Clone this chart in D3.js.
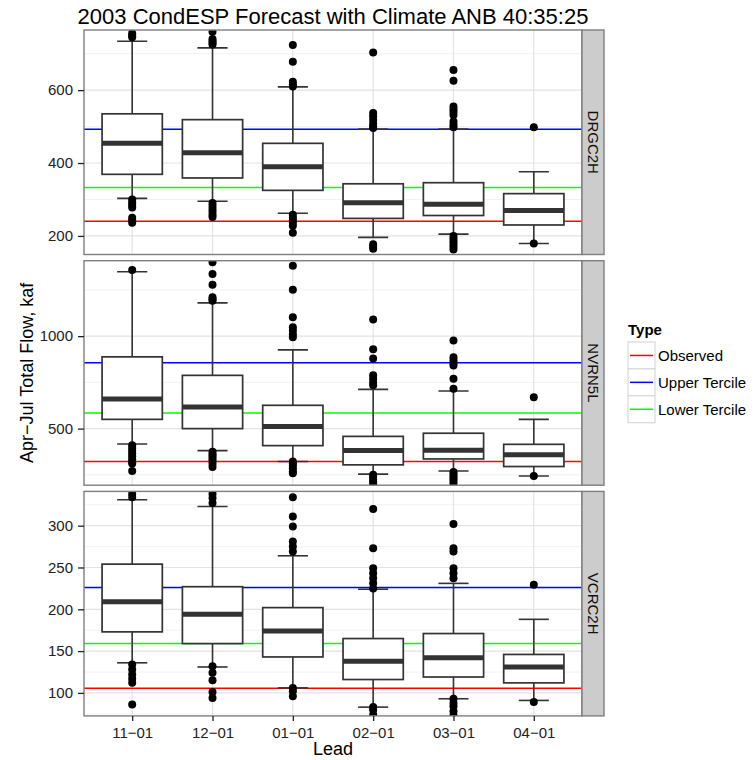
<!DOCTYPE html>
<html>
<head>
<meta charset="utf-8">
<script src="https://cdn.jsdelivr.net/npm/d3@7"></script>
<style>
  body { margin: 0; background: #fff; }
  text { font-family: "Liberation Sans", Arial, sans-serif; }
</style>
</head>
<body>
<div id="chart"></div>
<script>
const leads = ["11-01", "12-01", "01-01", "02-01", "03-01", "04-01"];
const stations = ["DRGC2H", "NVRN5L", "VCRC2H"];

// [lower whisker, Q1, median, Q3, upper whisker] per lead
const drgc2hStats = [[303, 369, 454, 535, 734], [295, 359, 428, 519, 716], [262, 325, 390, 454, 609],
  [196, 248, 291, 343, 493], [205, 256, 287, 346, 493], [179, 230, 270, 316, 376]];
const nvrn5lStats = [[417, 550, 660, 888, 1348], [381, 500, 617, 788, 1180], [322, 408, 511, 626, 926],
  [254, 304, 381, 458, 712], [271, 336, 383, 475, 703], [244, 295, 358, 415, 550]];
const vcrc2hStats = [[136, 173, 209, 254, 331], [131, 159, 194, 227, 323], [106, 143, 174, 202, 264],
  [83, 116, 138, 165, 224], [93, 119, 142, 171, 231], [91, 112, 131, 146, 188]];

const drgc2hOutliers = [
  [745, 750, 756, 300, 292, 285, 278, 250, 243, 236],
  [760, 740, 735, 730, 725, 290, 282, 274, 266, 258, 252],
  [724, 678, 623, 615, 610, 258, 250, 243, 236, 228, 209],
  [703, 537, 528, 518, 508, 500, 496, 177, 170, 165],
  [655, 626, 555, 547, 540, 532, 514, 505, 498, 200, 192, 185, 178, 170, 163],
  [498, 179]
];
const nvrn5lOutliers = [
  [1358, 410, 395, 380, 365, 350, 335, 320, 311, 271],
  [1399, 1336, 1278, 1210, 1200, 1192, 375, 362, 350, 337, 325, 310, 293],
  [1381, 1251, 1102, 1048, 1030, 1010, 994, 322, 312, 300, 285, 270, 259],
  [1090, 929, 879, 788, 770, 750, 734, 250, 238, 225, 212, 200],
  [976, 886, 870, 855, 841, 770, 716, 265, 255, 242, 230, 218, 205],
  [669, 244]
];
const vcrc2hOutliers = [
  [338, 334, 134, 128, 122, 117, 112, 86],
  [338, 333, 327, 132, 124, 115, 101, 94],
  [334, 311, 299, 281, 275, 269, 106, 102, 96],
  [320, 273, 249, 243, 237, 231, 225, 83, 80, 74],
  [302, 273, 269, 249, 243, 237, 93, 88, 84, 78, 73],
  [229.5, 89]
];

const observed = [240, 322, 105.5];
const upperTercile = [493, 856, 226];
const lowerTercile = [333, 584, 159];

const yDomains = [[149, 765], [194, 1408], [72.5, 341]];
const yTicks = [[200, 400, 600], [500, 1000], [100, 150, 200, 250, 300]];
const yMinor = [[300, 500, 700], [250, 750, 1250], [75, 125, 175, 225, 275, 325]];

const typeNames = ["Observed", "Upper Tercile", "Lower Tercile"];
const typeColors = ["#ff0000", "#0000ff", "#00ff00"];

const allStats = [drgc2hStats, nvrn5lStats, vcrc2hStats];
const allOutliers = [drgc2hOutliers, nvrn5lOutliers, vcrc2hOutliers];
const allLines = [observed, upperTercile, lowerTercile];

const W = 756, H = 760;
const panel = { left: 84, right: 582, top: 30, height: 224.5, gap: 6.2 };
const stripW = 22;

const svg = d3.select("#chart").append("svg").attr("width", W).attr("height", H);

const x = d3.scalePoint().domain(leads).range([panel.left, panel.right]).padding(0.6);
const step = x.step();
const boxW = step * 0.75;
const capW = boxW / 2;
const fmt = s => s.replace("-", "\u2212");

svg.append("text")
  .attr("x", (panel.left + panel.right) / 2).attr("y", 24)
  .attr("text-anchor", "middle").attr("font-size", 22).attr("fill", "#000")
  .text("2003 CondESP Forecast with Climate ANB 40:35:25");

stations.forEach((st, i) => {
  const top = panel.top + i * (panel.height + panel.gap);
  const bottom = top + panel.height;
  const y = d3.scaleLinear().domain(yDomains[i]).range([bottom, top]);
  const g = svg.append("g");

  g.append("clipPath").attr("id", "clip" + i)
    .append("rect").attr("x", panel.left).attr("y", top)
    .attr("width", panel.right - panel.left).attr("height", panel.height);

  g.append("rect").attr("x", panel.left).attr("y", top)
    .attr("width", panel.right - panel.left).attr("height", panel.height).attr("fill", "#fff");

  const plot = g.append("g").attr("clip-path", `url(#clip${i})`);

  plot.selectAll(".minor").data(yMinor[i]).join("line")
    .attr("x1", panel.left).attr("x2", panel.right)
    .attr("y1", d => y(d)).attr("y2", d => y(d))
    .attr("stroke", "#f2f2f2").attr("stroke-width", 1);
  plot.selectAll(".major").data(yTicks[i]).join("line")
    .attr("x1", panel.left).attr("x2", panel.right)
    .attr("y1", d => y(d)).attr("y2", d => y(d))
    .attr("stroke", "#e3e3e3").attr("stroke-width", 1.2);
  plot.selectAll(".vgrid").data(leads).join("line")
    .attr("x1", d => x(d)).attr("x2", d => x(d))
    .attr("y1", top).attr("y2", bottom)
    .attr("stroke", "#e3e3e3").attr("stroke-width", 1.2);

  // tercile / observed lines
  allLines.forEach((arr, k) => {
    plot.append("line")
      .attr("x1", panel.left).attr("x2", panel.right)
      .attr("y1", y(arr[i])).attr("y2", y(arr[i]))
      .attr("stroke", typeColors[k]).attr("stroke-width", 1.5);
  });

  const stats = allStats[i];
  const boxes = plot.selectAll(".box").data(leads).join("g");
  boxes.append("line")
    .attr("x1", d => x(d)).attr("x2", d => x(d))
    .attr("y1", (d, j) => y(stats[j][4])).attr("y2", (d, j) => y(stats[j][0]))
    .attr("stroke", "#333").attr("stroke-width", 1.6);
  [0, 4].forEach(q => {
    boxes.append("line")
      .attr("x1", d => x(d) - capW / 2).attr("x2", d => x(d) + capW / 2)
      .attr("y1", (d, j) => y(stats[j][q])).attr("y2", (d, j) => y(stats[j][q]))
      .attr("stroke", "#333").attr("stroke-width", 1.6);
  });
  boxes.append("rect")
    .attr("x", d => x(d) - boxW / 2).attr("width", boxW)
    .attr("y", (d, j) => y(stats[j][3]))
    .attr("height", (d, j) => y(stats[j][1]) - y(stats[j][3]))
    .attr("fill", "#fff").attr("stroke", "#333").attr("stroke-width", 1.7);
  boxes.append("line")
    .attr("x1", d => x(d) - boxW / 2).attr("x2", d => x(d) + boxW / 2)
    .attr("y1", (d, j) => y(stats[j][2])).attr("y2", (d, j) => y(stats[j][2]))
    .attr("stroke", "#333").attr("stroke-width", 5);

  const pts = allOutliers[i].flatMap((arr, j) => arr.map(v => ({ lead: leads[j], v })));
  plot.selectAll(".pt").data(pts).join("circle")
    .attr("cx", d => x(d.lead)).attr("cy", d => y(d.v)).attr("r", 4).attr("fill", "#000");

  g.append("rect").attr("x", panel.left).attr("y", top)
    .attr("width", panel.right - panel.left).attr("height", panel.height)
    .attr("fill", "none").attr("stroke", "#7f7f7f").attr("stroke-width", 1.4);

  // strip
  g.append("rect").attr("x", panel.right).attr("y", top)
    .attr("width", stripW).attr("height", panel.height)
    .attr("fill", "#cccccc").attr("stroke", "#7f7f7f").attr("stroke-width", 1.4);
  g.append("text")
    .attr("transform", `translate(${panel.right + stripW / 2},${(top + bottom) / 2}) rotate(90)`)
    .attr("text-anchor", "middle").attr("dy", "0.36em")
    .attr("font-size", 15).attr("fill", "#111").text(st);

  // y axis
  const yAxis = g.append("g").attr("transform", `translate(${panel.left},0)`)
    .call(d3.axisLeft(y).tickValues(yTicks[i]).tickSize(6).tickPadding(5).tickFormat(d3.format("d")));
  yAxis.select(".domain").remove();
  yAxis.selectAll("line").attr("stroke", "#222").attr("stroke-width", 1.3);
  yAxis.selectAll("text").attr("font-size", 15).attr("fill", "#222")
    .style("font-family", "Liberation Sans, Arial, sans-serif");

  if (i === stations.length - 1) {
    const xAxis = g.append("g").attr("transform", `translate(0,${bottom})`)
      .call(d3.axisBottom(x).tickSize(5).tickPadding(6).tickFormat(fmt));
    xAxis.select(".domain").remove();
    xAxis.selectAll("line").attr("stroke", "#222").attr("stroke-width", 1.3);
    xAxis.selectAll("text").attr("font-size", 15).attr("fill", "#222")
      .style("font-family", "Liberation Sans, Arial, sans-serif");
  }
});

svg.append("text")
  .attr("x", (panel.left + panel.right) / 2).attr("y", 755)
  .attr("text-anchor", "middle").attr("font-size", 18).text("Lead");

const midY = panel.top + (3 * panel.height + 2 * panel.gap) / 2;
svg.append("text")
  .attr("transform", `translate(33,${midY}) rotate(-90)`)
  .attr("text-anchor", "middle").attr("font-size", 18).text("Apr\u2212Jul Total Flow, kaf");

// legend
const leg = svg.append("g").attr("transform", "translate(628,335)");
leg.append("text").attr("x", 0).attr("y", 0)
  .attr("font-size", 15).attr("font-weight", "bold").text("Type");
const keyH = 26.9, keyW = 27;
typeNames.forEach((name, k) => {
  const ky = 7 + k * keyH;
  leg.append("rect").attr("x", 0).attr("y", ky).attr("width", keyW).attr("height", keyH)
    .attr("fill", "#fff").attr("stroke", "#d9d9d9").attr("stroke-width", 1.2);
  leg.append("line").attr("x1", 2).attr("x2", keyW - 2)
    .attr("y1", ky + keyH / 2).attr("y2", ky + keyH / 2)
    .attr("stroke", typeColors[k]).attr("stroke-width", 1.5);
  leg.append("text").attr("x", keyW + 3).attr("y", ky + keyH / 2).attr("dy", "0.36em")
    .attr("font-size", 15).text(name);
});
</script>
</body>
</html>
